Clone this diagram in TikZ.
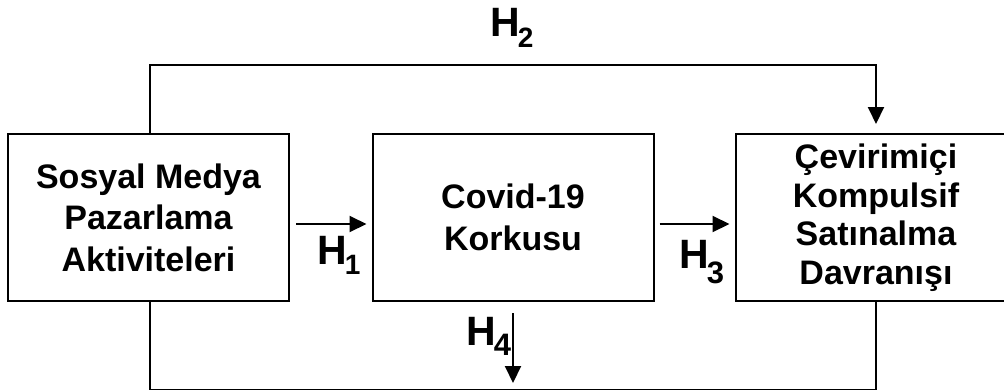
\documentclass[tikz,border=0pt]{standalone}
\usepackage{fontspec}
\setmainfont{Liberation Sans}
\usetikzlibrary{arrows.meta}
\tikzset{
  box/.style={draw, line width=2pt, minimum width=281pt, minimum height=167pt, inner sep=0pt, align=center, font=\bfseries\fontsize{34}{41.5}\selectfont},
  conn/.style={line width=2pt},
  arr/.style={line width=2pt, -{Triangle[length=17pt,width=16pt]}},
  hlab/.style={anchor=base west, inner sep=0pt, font=\bfseries}
}
\newcommand{\hyp}[3]{{\fontsize{41}{41}\selectfont H}\kern-2pt\raisebox{-#2pt}{\fontsize{#3}{#3}\selectfont #1}}
\begin{document}
\begin{tikzpicture}[x=1pt,y=-1pt]
\useasboundingbox (0,0) rectangle (1004,389);
\clip (0,0) rectangle (1004,389);
\node[box] (b1) at (148.5,217.5) {Sosyal Medya\\Pazarlama\\Aktiviteleri};
\node[box] (b2) at (513,217.5) {Covid-19\\Korkusu};
\node[box, font=\bfseries\fontsize{34}{38.5}\selectfont] (b3) at (876,217.5) {Çevirimiçi\\Kompulsif\\Satınalma\\Davranışı};
\coordinate (t1) at (150,65);
\coordinate (t2) at (876,65);
\coordinate (u1) at (150,390);
\coordinate (u2) at (876,390);
\coordinate (h4end) at (513,383);
\draw[arr, shorten >=9pt] ([xshift=1.5pt]b1.north) -- (t1) -- (t2) -- (b3.north);
\draw[conn] ([xshift=1.5pt]b1.south) -- (u1) -- (u2) -- (b3.south);
\draw[arr] ([xshift=6pt,yshift=-6.5pt]b1.east) -- ([xshift=-5pt,yshift=-6.5pt]b2.west);
\draw[arr] ([xshift=5pt,yshift=-6.5pt]b2.east) -- ([xshift=-5pt,yshift=-6.5pt]b3.west);
\draw[arr] ([yshift=-11pt]b2.south) -- (h4end);
\node[hlab] (l2) at (490,36) {\hyp{2}{11}{28}};
\node[hlab] (l1) at (317,264) {\hyp{1}{10}{28}};
\node[hlab] (l3) at (679,268) {\hyp{3}{15}{31}};
\node[hlab] (l4) at (466,345) {\hyp{4}{10}{31}};
\end{tikzpicture}
\end{document}
